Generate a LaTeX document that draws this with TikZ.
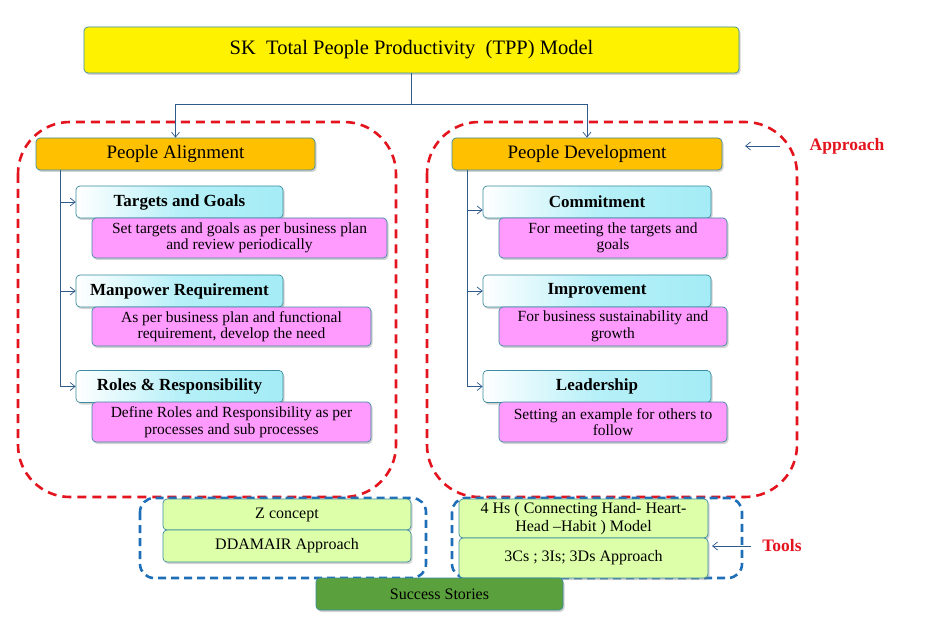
\documentclass[tikz,border=0pt]{standalone}
\usepackage{fontspec}
\setmainfont{Liberation Serif}
\usetikzlibrary{arrows.meta,shadows}
\definecolor{tealedge}{HTML}{3A8CA0}
\definecolor{linkblue}{HTML}{2F5A8C}
\definecolor{apred}{HTML}{E3141E}
\definecolor{toolblue}{HTML}{1F6EB8}
\definecolor{headorange}{HTML}{FFC000}
\definecolor{notepink}{HTML}{FF9BFF}
\definecolor{toolgreen}{HTML}{DDFFAA}
\definecolor{storygreen}{HTML}{5AA03C}
\definecolor{cyanmid}{HTML}{A4ECF6}
\tikzset{
  box/.style={draw=tealedge,line width=0.7pt,rounded corners=4pt,align=center,inner sep=1pt,
    drop shadow={shadow xshift=1.5pt,shadow yshift=-2pt,opacity=0.35}},
  titlebox/.style={box,fill=yellow,minimum width=655pt,minimum height=46pt,font=\fontsize{20.5}{24}\selectfont},
  headbox/.style={box,fill=headorange,minimum height=32pt,font=\fontsize{19}{22}\selectfont},
  itembox/.style={box,left color=white,right color=cyanmid,middle color=cyanmid!80,minimum height=32pt,font=\bfseries\fontsize{17}{19}\selectfont},
  notebox/.style={box,fill=notepink,minimum height=40pt,font=\fontsize{15.5}{16.5}\selectfont},
  toolbox/.style={box,fill=toolgreen,minimum width=249pt,font=\fontsize{16}{18}\selectfont},
  link/.style={draw=linkblue,line width=0.7pt},
  linkarrow/.style={link,-{Straight Barb[length=5pt,width=8pt]}},
  approachline/.style={draw=apred,line width=2.6pt,dash pattern=on 9pt off 6pt,rounded corners=52pt},
  toolline/.style={draw=toolblue,line width=2.6pt,dash pattern=on 8pt off 5pt,rounded corners=14pt},
  tag/.style={text=apred,font=\bfseries\fontsize{17.5}{20}\selectfont}
}
\begin{document}
\begin{tikzpicture}[x=1pt,y=-1pt]
\useasboundingbox (0,0) rectangle (949,617);
% dashed groups
\draw[approachline] (18,122) rectangle (396,497);
\draw[approachline] (427,122) rectangle (797,497);
\draw[toolline] (140,498) rectangle (426,578);
\draw[toolline] (452,498) rectangle (742,578);
% top
\node[titlebox] (tpp) at (411.5,50) {SK\ \ Total People Productivity\ \ (TPP) Model};
\node[headbox,minimum width=279pt] (align) at (175.5,154) {People Alignment};
\node[headbox,minimum width=270pt] (devel) at (587,154) {People Development};
\coordinate (split) at (411.5,104);
\draw[link] (tpp.south) -- (split);
\draw[linkarrow] (split) -| (align.north);
\draw[linkarrow] (split) -| (devel.north);
% left column
\node[itembox,minimum width=207pt] (goals) at (179.5,202) {Targets and Goals};
\node[notebox,minimum width=295pt] (goalsnote) at (239.5,238) {Set targets and goals as per business plan\\and review periodically};
\node[itembox,minimum width=207pt] (manpower) at (179.5,291) {Manpower Requirement};
\node[notebox,minimum width=279pt,minimum height=39pt] (manpowernote) at (231.5,326.5) {As per business plan and functional\\requirement, develop the need};
\node[itembox,minimum width=207pt] (roles) at (179.5,386.5) {Roles \& Responsibility};
\node[notebox,minimum width=279pt] (rolesnote) at (231.5,422) {Define Roles and Responsibility as per\\processes and sub processes};
\coordinate (lspine) at (60,170);
\draw[linkarrow] (lspine) |- (goals.west);
\draw[linkarrow] (lspine) |- (manpower.west);
\draw[linkarrow] (lspine) |- (roles.west);
% right column
\node[itembox,minimum width=228pt] (commit) at (597,202) {Commitment};
\node[notebox,minimum width=228pt] (commitnote) at (613,238) {For meeting the targets and\\goals};
\node[itembox,minimum width=228pt] (improve) at (597,291) {Improvement};
\node[notebox,minimum width=228pt,minimum height=39pt] (improvenote) at (613,326.5) {For business sustainability and\\growth};
\node[itembox,minimum width=228pt] (lead) at (597,386.5) {Leadership};
\node[notebox,minimum width=228pt] (leadnote) at (613,422) {Setting an example for others to\\follow};
\coordinate (rspine) at (467,170);
\draw[linkarrow] (rspine) |- ([yshift=-8pt]commit.west);
\draw[linkarrow] (rspine) |- (improve.west);
\draw[linkarrow] (rspine) |- (lead.west);
% tools
\node[toolbox,minimum width=248pt,minimum height=31pt] (zcon) at (287,514.5) {Z concept};
\node[toolbox,minimum width=248pt,minimum height=32pt] (ddamair) at (287,546) {DDAMAIR Approach};
\node[toolbox,minimum height=39pt] (hands) at (583.5,518.5) {4 Hs ( Connecting Hand- Heart-\\Head –Habit ) Model};
\node[toolbox,minimum height=40pt] (threes) at (583.5,558) {3Cs ; 3Is; 3Ds Approach};
\node[box,fill=storygreen,minimum width=247pt,minimum height=32pt,font=\fontsize{16}{18}\selectfont] (stories) at (439.5,594) {Success Stories};
% side tags
\node[tag] (approach) at (847,146) {Approach};
\coordinate (approachtail) at (780,146);
\coordinate (approachhead) at (745,146);
\draw[linkarrow] (approachtail) -- (approachhead);
\node[tag] (tools) at (782,546) {Tools};
\coordinate (toolstail) at (751,546);
\coordinate (toolshead) at (712,546);
\draw[linkarrow] (toolstail) -- (toolshead);
\end{tikzpicture}
\end{document}
